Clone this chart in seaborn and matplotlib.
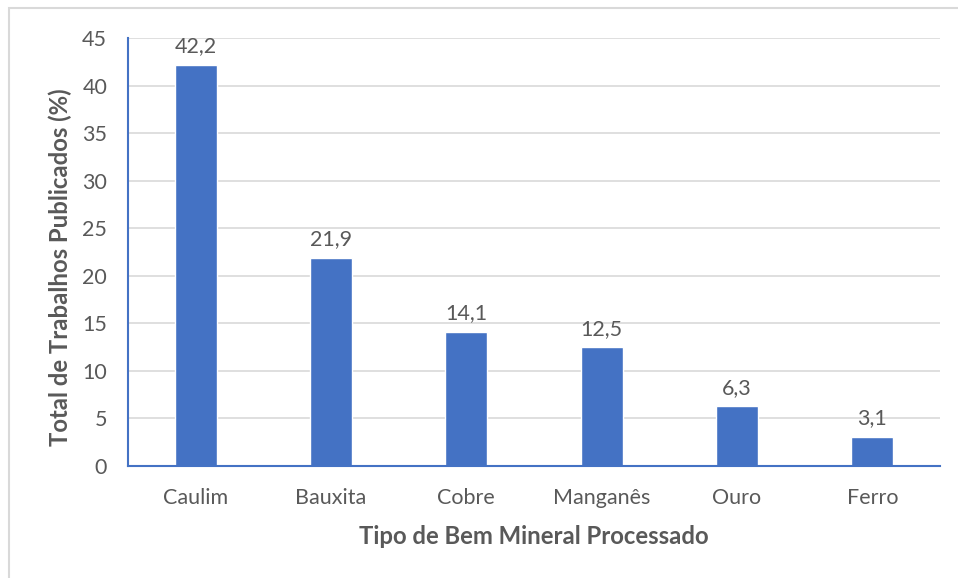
import matplotlib
matplotlib.use("Agg")
import matplotlib.pyplot as plt
from matplotlib.patches import Rectangle
import seaborn as sns
import pandas as pd

categorias = ["Caulim", "Bauxita", "Cobre", "Manganês", "Ouro", "Ferro"]
valores = [42.2, 21.9, 14.1, 12.5, 6.3, 3.1]
rotulos = ["42,2", "21,9", "14,1", "12,5", "6,3", "3,1"]
y_ticks = [0, 5, 10, 15, 20, 25, 30, 35, 40, 45]

df = pd.DataFrame({"cat": categorias, "val": valores})

sns.set_theme(style="white")
plt.rcParams["font.family"] = ["Lato", "DejaVu Sans"]

W, H = 958, 578
fig = plt.figure(figsize=(W / 100, H / 100), dpi=100)
ax = fig.add_axes([128 / W, 1 - 466 / H, (940 - 128) / W, (466 - 38) / H])

bar_color = "#4472C4"
text_color = "#595959"

sns.barplot(data=df, x="cat", y="val", color=bar_color, width=0.31,
            saturation=1, ax=ax, zorder=3)

ax.set_ylim(0, 45)
ax.set_xlim(-0.5, len(categorias) - 0.5)
ax.set_yticks(y_ticks)
ax.set_yticklabels([str(t) for t in y_ticks])
ax.yaxis.grid(True, color="#D9D9D9", linewidth=1.2, zorder=0)
ax.xaxis.grid(False)

for s in ["top", "right"]:
    ax.spines[s].set_visible(False)
for s in ["left", "bottom"]:
    ax.spines[s].set_color(bar_color)
    ax.spines[s].set_linewidth(1.5)
    ax.spines[s].set_zorder(4)

ax.tick_params(axis="both", length=0, labelsize=15.5, colors=text_color)
ax.tick_params(axis="y", pad=15)
ax.tick_params(axis="x", pad=16)

for i, (v, lab) in enumerate(zip(valores, rotulos)):
    ax.annotate(lab, (i, v), xytext=(0, 6), textcoords="offset points",
                ha="center", va="bottom", fontsize=15.5, color=text_color)

ax.set_xlabel("Tipo de Bem Mineral Processado", fontsize=17.2,
              fontweight="bold", color=text_color)
ax.set_ylabel("Total de Trabalhos Publicados (%)", fontsize=17.2,
              fontweight="bold", color=text_color)
ax.xaxis.set_label_coords(0.5, -(536 - 466) / 428, transform=ax.transAxes)
ax.xaxis.label.set_va("center")
ax.yaxis.set_label_coords(-(128 - 60) / 812, (466 - 267) / 428,
                          transform=ax.transAxes)
ax.yaxis.label.set_va("center")

# light frame around the chart area
fig.patches.append(Rectangle((8.5 / W, -0.05), 1.1, 1 - 8.5 / H + 0.05,
                             transform=fig.transFigure, fill=False,
                             edgecolor="#D9D9D9", linewidth=1.5))

fig.savefig("out.png", dpi=100)
